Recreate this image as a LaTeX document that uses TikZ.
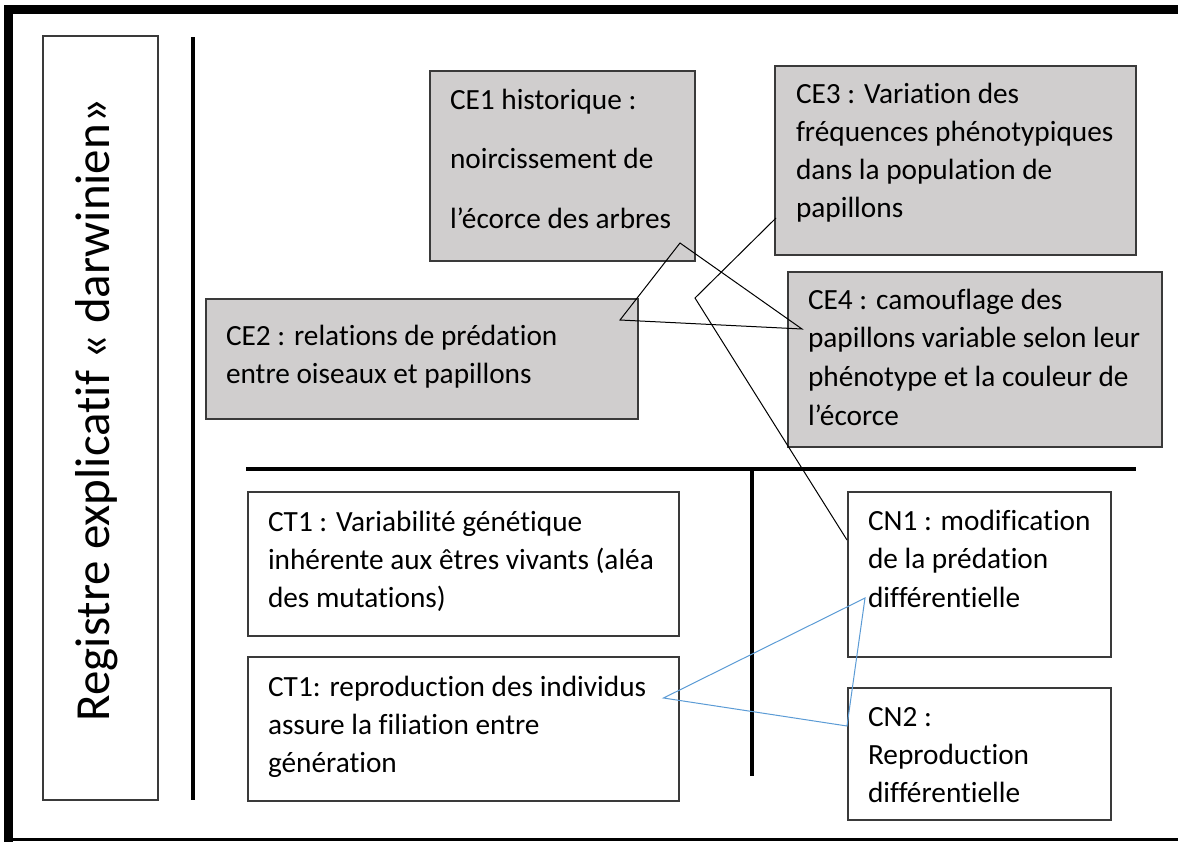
\documentclass[tikz,border=0pt]{standalone}
\usepackage{fontspec}
\setmainfont[Ligatures={NoCommon}]{Carlito}
\usetikzlibrary{calc}
\definecolor{boxgrey}{HTML}{D0CECE}
\definecolor{boxline}{HTML}{3A3A3A}
\definecolor{linkblue}{HTML}{5B9BD5}
\newcommand\tlines[2]{\vtop{\baselineskip=#1pt\lineskiplimit=-100pt\lineskip=0pt #2}}
\begin{document}
\begin{tikzpicture}[x=1pt,y=-1pt,
  gbox/.style={draw=boxline, line width=1.2pt, fill=boxgrey, inner sep=0pt, outer sep=0pt, anchor=north west},
  wbox/.style={draw=boxline, line width=1.2pt, fill=white, inner sep=0pt, outer sep=0pt, anchor=north west},
  txt/.style={inner sep=0pt, outer sep=0pt, anchor=base west, font=\fontsize{29.3}{36}\selectfont},
  rule/.style={line width=4pt, black},
  link/.style={line width=1pt, black},
  bluelink/.style={line width=1pt, linkblue}]
\useasboundingbox (0,0) rectangle (1178,841);
% frame
\draw[line width=8.5pt, line join=miter] (8.5,845) -- (8.5,9.5) -- (1182,9.5);
\draw[line width=3.5pt] (5,839.5) -- (1182,839.5);
% separators
\draw[rule] (193,37) -- (193,800);
\draw[rule] (246,469) -- (1136,469);
\draw[rule] (752,469) -- (752,776);
% left title
\node[wbox, minimum width=115pt, minimum height=764pt] (reg) at (43,36) {};
\node[rotate=90, anchor=base, inner sep=0pt, font=\fontsize{49}{58}\selectfont] (regt) at (109,410) {Registre explicatif « darwinien»};
% CE boxes
\node[gbox, minimum width=265pt, minimum height=190pt] (ce1) at (430,71) {};
\node[txt] (ce1t) at (450,109) {\tlines{59.5}{\hbox{CE1 historique :}\hbox{noircissement de}\hbox{l’écorce des arbres}}};
\node[gbox, minimum width=361pt, minimum height=189pt] (ce3) at (775,66) {};
\node[txt] (ce3t) at (796,103) {\tlines{38.2}{\hbox{CE3 : Variation des}\hbox{fréquences phénotypiques}\hbox{dans la population de}\hbox{papillons}}};
\node[gbox, minimum width=432pt, minimum height=120pt] (ce2) at (206,299) {};
\node[txt] (ce2t) at (226,345) {\tlines{38.5}{\hbox{CE2 : relations de prédation}\hbox{entre oiseaux et papillons}}};
\node[gbox, minimum width=374pt, minimum height=175pt] (ce4) at (788,272) {};
\node[txt] (ce4t) at (808,309) {\tlines{38.7}{\hbox{CE4 : camouflage des}\hbox{papillons variable selon leur}\hbox{phénotype et la couleur de}\hbox{l’écorce}}};
% CT boxes
\node[wbox, minimum width=431pt, minimum height=144pt] (ct1) at (248,492) {};
\node[txt] (ct1t) at (268,531) {\tlines{38}{\hbox{CT1 : Variabilité génétique}\hbox{inhérente aux êtres vivants (aléa}\hbox{des mutations)}}};
\node[wbox, minimum width=431pt, minimum height=144pt] (ct2) at (248,657) {};
\node[txt] (ct2t) at (268,696) {\tlines{38}{\hbox{CT1: reproduction des individus}\hbox{assure la filiation entre}\hbox{génération}}};
% CN boxes
\node[wbox, minimum width=263pt, minimum height=165pt] (cn1) at (848,492) {};
\node[txt] (cn1t) at (868,530) {\tlines{38.5}{\hbox{CN1 : modification}\hbox{de la prédation}\hbox{différentielle}}};
\node[wbox, minimum width=263pt, minimum height=132pt] (cn2) at (848,688) {};
\node[txt] (cn2t) at (868,726) {\tlines{38}{\hbox{CN2 :}\hbox{Reproduction}\hbox{différentielle}}};
% connector points
\coordinate (p1) at ($(ce1.north west)+(250,172)$);
\coordinate (p2) at ($(ce2.north west)+(414,21)$);
\coordinate (p4) at ($(ce4.north west)+(14,57)$);
\coordinate (p3) at ($(ce3.north west)+(1,152)$);
\coordinate (bend) at (695,298);
\coordinate (q1) at ($(cn1.north west)+(-1,48)$);
\coordinate (b1) at ($(cn1.north west)+(17,106)$);
\coordinate (b2) at ($(ct2.north west)+(415.5,41)$);
\coordinate (b3) at ($(cn2.north west)+(-1,38)$);
% connectors
\draw[link] (p1) -- (p2) -- (p4) -- cycle;
\draw[link] (p3) -- (bend) -- (q1);
\draw[bluelink] (b1) -- (b2) -- (b3) -- cycle;
\end{tikzpicture}
\end{document}
